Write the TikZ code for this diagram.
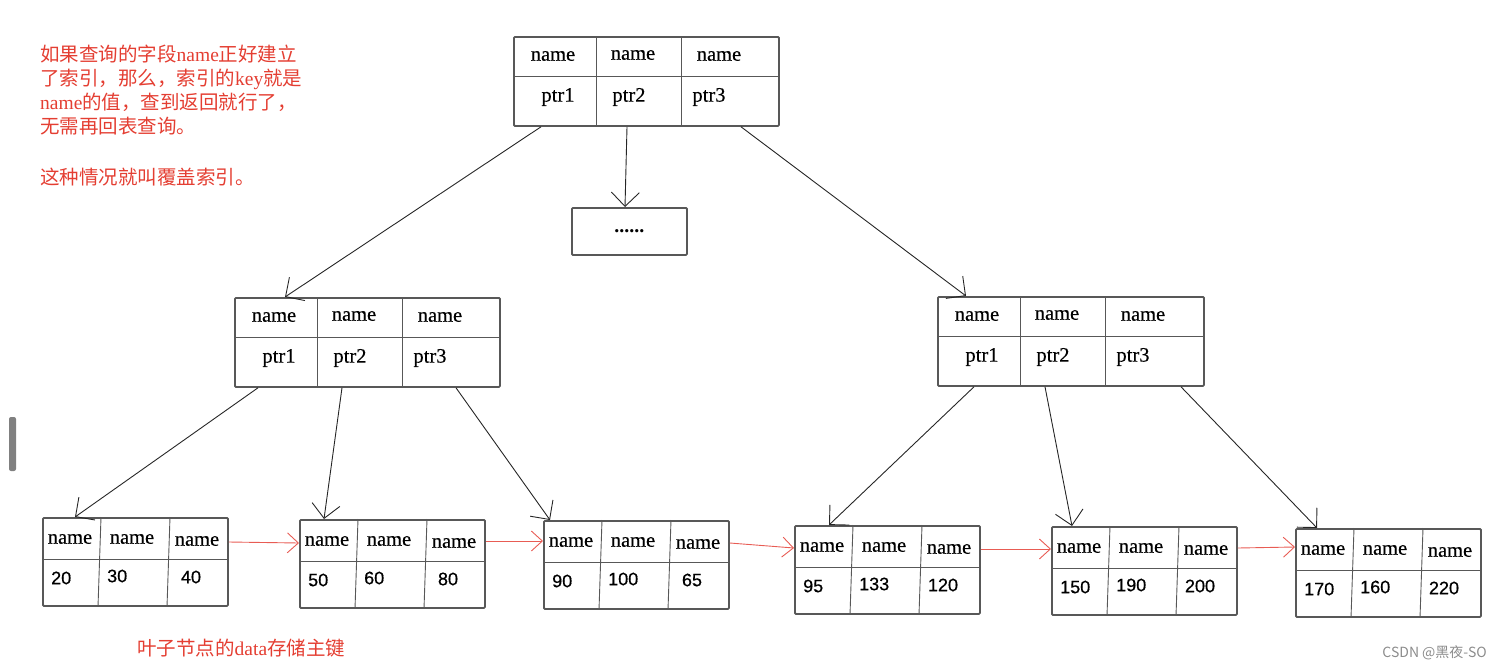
\documentclass[tikz,border=0pt]{standalone}
\usepackage{fontspec}
\setmainfont{Liberation Serif}
\setsansfont{Liberation Sans}
\newfontfamily\cjk{Noto Sans CJK SC}
\newfontfamily\keyfont[FakeBold=0.4]{Liberation Serif}
\newfontfamily\numfont[FakeBold=0.6]{Liberation Sans}
\usetikzlibrary{arrows.meta}
\definecolor{notered}{RGB}{228,62,50}
\definecolor{linkred}{RGB}{232,92,84}
\definecolor{frame}{RGB}{88,88,88}

\begin{document}
\begin{tikzpicture}[x=1pt, y=-1pt, >={Straight Barb[length=14pt,width=28pt]},
   keybox/.style={draw=frame, line width=1.8pt, rounded corners=1pt, minimum width=265pt, minimum height=89pt, inner sep=0pt, anchor=north west},
   leafbox/.style={keybox, minimum width=185pt, minimum height=88pt},
   cell/.style={draw=frame, line width=0.9pt},
   nm/.style={font=\keyfont\fontsize{20.5}{24}\selectfont, inner sep=0pt},
   num/.style={font=\numfont\fontsize{18}{22}\selectfont, inner sep=0pt},
   ptrarrow/.style={->, line width=0.9pt, black!85},
   leaflink/.style={-{Straight Barb[length=11pt,width=20pt]}, line width=0.9pt, linkred},
   remark/.style={text=notered, font=\cjk\fontsize{19.5}{24}\selectfont, inner sep=0pt}]
   \useasboundingbox (0,0) rectangle (1502,670);
   \fill[black!50, rounded corners=2pt] (9,417) rectangle (16,471);
   \node[keybox] (root) at (513,36) {};
   \node[keybox, nm, font=\bfseries\fontsize{20}{24}\selectfont, minimum width=115pt, minimum height=47pt] (dots) at (571,207) {......};
   \node[keybox] (midL) at (234,297) {};
   \node[keybox, minimum width=266pt] (midR) at (937,296) {};
   \node[leafbox] (L1) at (42,517) {};
   \node[leafbox] (L2) at (299,519) {};
   \node[leafbox] (L3) at (543,520) {};
   \node[leafbox] (L4) at (794,525) {};
   \node[leafbox] (L5) at (1051,526) {};
   \node[leafbox] (L6) at (1295,528) {};
   \foreach \n in {root,midL,midR} {
      \draw[cell] ([yshift=-40pt]\n.north west) -- ([yshift=-40pt]\n.north east);
      \draw[cell] ([xshift=83pt]\n.north west) -- ([xshift=83pt]\n.south west);
      \draw[cell] ([xshift=168pt]\n.north west) -- ([xshift=168pt]\n.south west);
      \node[nm] (\n-k1) at ([xshift=40pt,yshift=-20pt]\n.north west) {name};
      \node[nm] (\n-k2) at ([xshift=120pt,yshift=-19pt]\n.north west) {name};
      \node[nm] (\n-k3) at ([xshift=206pt,yshift=-20pt]\n.north west) {name};
      \node[nm] (\n-p1) at ([xshift=45pt,yshift=-61pt]\n.north west) {ptr1};
      \node[nm] (\n-p2) at ([xshift=116pt,yshift=-61pt]\n.north west) {ptr2};
      \node[nm] (\n-p3) at ([xshift=196pt,yshift=-61pt]\n.north west) {ptr3};
   }
   \foreach \n/\a/\b/\c in {L1/20/30/40, L2/50/60/80, L3/90/100/65, L4/95/133/120, L5/150/190/200, L6/170/160/220} {
      \draw[cell] ([yshift=-42pt]\n.north west) -- ([yshift=-42pt]\n.north east);
      \draw[cell] ([xshift=59pt]\n.north west) -- ([xshift=56pt]\n.south west);
      \draw[cell] ([xshift=128pt]\n.north west) -- ([xshift=125pt]\n.south west);
      \node[nm] (\n-k1) at ([xshift=28pt,yshift=-22pt]\n.north west) {name};
      \node[nm] (\n-k2) at ([xshift=90pt,yshift=-22pt]\n.north west) {name};
      \node[nm] (\n-k3) at ([xshift=155pt,yshift=-24pt]\n.north west) {name};
      \node[num, anchor=west] (\n-v1) at ([xshift=9pt,yshift=-61pt]\n.north west) {\a};
      \node[num, anchor=west] (\n-v2) at ([xshift=65pt,yshift=-59pt]\n.north west) {\b};
      \node[num] (\n-v3) at ([xshift=149pt,yshift=-60pt]\n.north west) {\c};
   }
   \draw[ptrarrow] ([xshift=28pt]root.south west) -- ([xshift=51pt]midL.north west);
   \draw[ptrarrow] ([xshift=114pt]root.south west) -- ([xshift=54pt]dots.north west);
   \draw[ptrarrow] ([xshift=228pt]root.south west) -- ([xshift=29pt]midR.north west);
   \draw[ptrarrow] ([xshift=24pt]midL.south west) -- ([xshift=33pt]L1.north west);
   \draw[ptrarrow] ([xshift=108pt]midL.south west) -- ([xshift=25pt]L2.north west);
   \draw[ptrarrow] ([xshift=222pt]midL.south west) -- ([xshift=7pt]L3.north west);
   \draw[ptrarrow] ([xshift=37pt]midR.south west) -- ([xshift=35pt]L4.north west);
   \draw[ptrarrow] ([xshift=108pt]midR.south west) -- ([xshift=21pt]L5.north west);
   \draw[ptrarrow] ([xshift=244pt]midR.south west) -- ([xshift=22pt]L6.north west);
   \draw[leaflink] ([yshift=-25pt]L1.north east) -- ([yshift=-24pt]L2.north west);
   \draw[leaflink] ([yshift=-22pt]L2.north east) -- ([yshift=-21pt]L3.north west);
   \draw[leaflink] ([yshift=-23pt]L3.north east) -- ([yshift=-23pt]L4.north west);
   \draw[leaflink] ([yshift=-24pt]L4.north east) -- ([yshift=-23pt]L5.north west);
   \draw[leaflink] ([yshift=-22pt]L5.north east) -- ([yshift=-19pt]L6.north west);
   \node[remark, anchor=north west, align=left] (hint) at (40,45) {如果查询的字段{\rmfamily name}正好建立\\了索引，那么，索引的{\rmfamily key}就是\\{\rmfamily name}的值，查到返回就行了，\\无需再回表查询。\\[27pt]这种情况就叫覆盖索引。};
   \node[remark, anchor=west] (leafnote) at (137,648) {叶子节点的{\rmfamily data}存储主键};
   \node[font=\cjk\fontsize{14}{16}\selectfont, text=black!45, anchor=east, inner sep=0pt] (mark) at (1487,653) {CSDN @黑夜-SO};
\end{tikzpicture}
\end{document}
